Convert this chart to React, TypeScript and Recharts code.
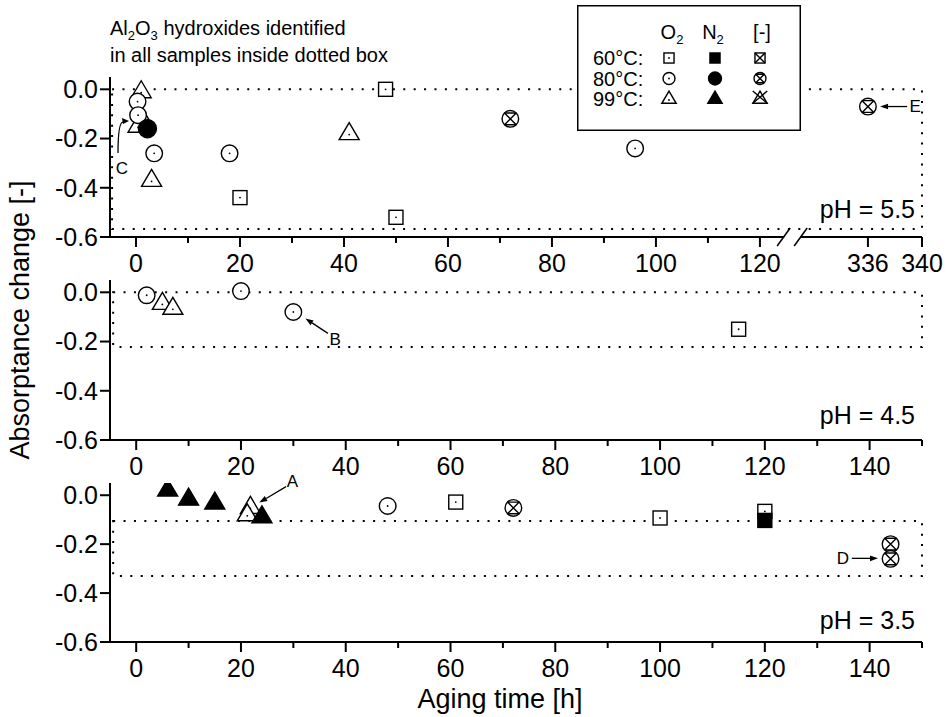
import React from 'react';
import {
  ScatterChart,
  Scatter,
  XAxis,
  YAxis,
  ReferenceArea,
  ReferenceLine,
  ReferenceDot,
  Legend,
  Label,
} from 'recharts';

const FONT = '"Liberation Sans", Arial, Helvetica, sans-serif';

// ---------- data: pH = 5.5 ----------
const ph55Sq60O2 = [{ t: 20, a: -0.44 }, { t: 48, a: 0.0 }, { t: 50, a: -0.52 }];
const ph55Tri99O2 = [{ t: 1, a: -0.01 }, { t: 1.3, a: -0.125 }, { t: 0.4, a: -0.15 }, { t: 3, a: -0.37 }, { t: 41, a: -0.18 }];
const ph55Cir80O2 = [{ t: 0.3, a: -0.05 }, { t: 0.4, a: -0.105 }, { t: 3.5, a: -0.26 }, { t: 18, a: -0.26 }, { t: 96, a: -0.24 }];
const ph55Cir80N2 = [{ t: 2.2, a: -0.16 }];
const ph55Cir80None = [{ t: 72, a: -0.12 }, { t: 336, a: -0.07 }];

// ---------- data: pH = 4.5 ----------
const ph45Sq60O2 = [{ t: 115, a: -0.15 }];
const ph45Tri99O2 = [{ t: 5, a: -0.045 }, { t: 7, a: -0.065 }];
const ph45Cir80O2 = [{ t: 2, a: -0.012 }, { t: 20, a: 0.005 }, { t: 30, a: -0.08 }];

// ---------- data: pH = 3.5 ----------
const ph35Tri99O2 = [{ t: 21.8, a: -0.05 }, { t: 21.2, a: -0.08 }];
const ph35Tri99N2 = [{ t: 6, a: 0.021 }, { t: 10, a: -0.016 }, { t: 15, a: -0.032 }, { t: 24, a: -0.088 }];
const ph35Cir80O2 = [{ t: 48, a: -0.044 }];
const ph35Sq60O2 = [{ t: 61, a: -0.028 }, { t: 100, a: -0.093 }, { t: 120, a: -0.066 }];
const ph35Sq60N2 = [{ t: 120, a: -0.103 }];
const ph35Cir80None = [{ t: 72, a: -0.052 }, { t: 144, a: -0.2 }, { t: 144, a: -0.26 }];

// ---------- axis ticks ----------
const yTicks = [-0.6, -0.4, -0.2, 0];
const topMajor = [0, 20, 40, 60, 80, 100, 120, 336, 340];
const topMinor = [10, 30, 50, 70, 90, 110];
const lowMajor = [0, 20, 40, 60, 80, 100, 120, 140];
const lowMinor = [10, 30, 50, 70, 90, 110, 130, 150];

// ---------- legend ----------
const legendRows = ['60°C:', '80°C:', '99°C:'];
const legendShapes = ['sq', 'cir', 'tri'];
const legendCols = [
  { main: 'O', sub: '2' },
  { main: 'N', sub: '2' },
  { main: '[-]', sub: '' },
];
const legendFills = ['O', 'F', 'X'];

// ---------- annotations ----------
const phLabels = ['pH = 5.5', 'pH = 4.5', 'pH = 3.5'];
const topNote = ['hydroxides identified', 'in all samples inside dotted box'];

// broken axis mapping for the top panel (virtual coordinate)
const brk = (t: number) => (t <= 125 ? t : 140.77 + (t - 336) * 2.6);
const TOP_MAX = brk(340);

const topTicks = [...topMajor, ...topMinor].map(brk).sort((p, q) => p - q);
const lowTicks = [...lowMajor, ...lowMinor].sort((p, q) => p - q);

const topLabel = (v: number) => {
  const m = topMajor.find((t) => Math.abs(brk(t) - v) < 1e-6);
  return m === undefined ? null : String(m);
};
const lowLabel = (v: number) => {
  const m = lowMajor.find((t) => Math.abs(t - v) < 1e-6);
  return m === undefined ? null : String(m);
};
const fmtY = (v: number) => (Math.abs(v) < 1e-9 ? '0.0' : v.toFixed(1));

const toTop = (d: { t: number; a: number }[]) => d.map((p) => ({ x: brk(p.t), a: p.a }));
const toLow = (d: { t: number; a: number }[]) => d.map((p) => ({ x: p.t, a: p.a }));

function Mark({ kind, fill, cx, cy, s = 1 }: any) {
  const sw = 1.4;
  const bg = fill === 'F' ? '#000' : '#fff';
  const dot = fill === 'O' ? <circle cx={cx} cy={cy} r={0.9} fill="#000" /> : null;
  if (kind === 'sq') {
    const h = 7 * s;
    return (
      <g>
        <rect x={cx - h} y={cy - h} width={2 * h} height={2 * h} fill={bg} stroke="#000" strokeWidth={sw} />
        {dot}
        {fill === 'X' && (
          <path
            d={`M${cx - h},${cy - h}L${cx + h},${cy + h}M${cx + h},${cy - h}L${cx - h},${cy + h}`}
            stroke="#000"
            strokeWidth={sw}
            fill="none"
          />
        )}
      </g>
    );
  }
  if (kind === 'cir') {
    const r = (fill === 'F' ? 9 : 8.3) * s;
    const d = r * 0.7071;
    return (
      <g>
        <circle cx={cx} cy={cy} r={r} fill={bg} stroke="#000" strokeWidth={sw} />
        {dot}
        {fill === 'X' && (
          <path
            d={`M${cx - d},${cy - d}L${cx + d},${cy + d}M${cx + d},${cy - d}L${cx - d},${cy + d}M${cx - d},${cy - d}L${cx + d},${cy - d}M${cx - d},${cy + d}L${cx + d},${cy + d}`}
            stroke="#000"
            strokeWidth={sw}
            fill="none"
          />
        )}
      </g>
    );
  }
  const w = 10 * s;
  const up = 11 * s;
  const dn = 6 * s;
  return (
    <g>
      <polygon
        points={`${cx},${cy - up} ${cx + w},${cy + dn} ${cx - w},${cy + dn}`}
        fill={bg}
        stroke="#000"
        strokeWidth={sw}
        strokeLinejoin="miter"
      />
      {fill === 'O' && <circle cx={cx} cy={cy + 1} r={0.9} fill="#000" />}
      {fill === 'X' && (
        <path
          d={`M${cx - w},${cy - up}L${cx + w},${cy + dn}M${cx + w},${cy - up}L${cx - w},${cy + dn}`}
          stroke="#000"
          strokeWidth={sw}
          fill="none"
        />
      )}
    </g>
  );
}

const XTick = (props: any) => {
  const { x, y, payload, lab } = props;
  const text = lab(payload.value);
  return (
    <g>
      <line x1={x} y1={y} x2={x} y2={y + (text !== null ? 10 : 6)} stroke="#000" strokeWidth={2} />
      {text !== null && (
        <text x={x} y={y + 35} textAnchor="middle" fontSize={25} fontFamily={FONT} fill="#000">
          {text}
        </text>
      )}
    </g>
  );
};

const arrowShape = (p: any) => {
  const { x1, y1, x2, y2 } = p;
  const ang = Math.atan2(y2 - y1, x2 - x1);
  const L = 8;
  const W = 2.8;
  const bx = x2 - L * Math.cos(ang);
  const by = y2 - L * Math.sin(ang);
  return (
    <g>
      <line x1={x1} y1={y1} x2={bx} y2={by} stroke="#000" strokeWidth={1.3} />
      <polygon
        points={`${x2},${y2} ${bx - W * Math.sin(ang)},${by + W * Math.cos(ang)} ${bx + W * Math.sin(ang)},${by - W * Math.cos(ang)}`}
        fill="#000"
      />
    </g>
  );
};

const curvedArrowShape = (p: any) => {
  const { x1, y1, x2, y2 } = p;
  return (
    <g>
      <path d={`M${x1},${y1} Q${x1},${y2} ${x2 - 4},${y2}`} stroke="#000" strokeWidth={1.3} fill="none" />
      <polygon points={`${x2 + 2},${y2 - 1} ${x2 - 5},${y2 - 4} ${x2 - 4},${y2 + 2}`} fill="#000" />
    </g>
  );
};

const letter = (text: string) => (p: any) => (
  <text x={p.cx} y={p.cy} textAnchor="middle" dominantBaseline="central" fontSize={17} fontFamily={FONT} fill="#000">
    {text}
  </text>
);

const phText = (text: string) => (p: any) => (
  <text x={p.cx - 7} y={p.cy} dy="0.36em" textAnchor="end" fontSize={25} fontFamily={FONT} fill="#000">
    {text}
  </text>
);

const noteShape = (p: any) => (
  <g fontFamily={FONT} fontSize={20} fill="#000">
    <text x={p.cx} y={p.cy - 42}>
      Al<tspan dy={5} fontSize={13}>2</tspan>
      <tspan dy={-5}>O</tspan>
      <tspan dy={5} fontSize={13}>3</tspan>
      <tspan dy={-5}> {topNote[0]}</tspan>
    </text>
    <text x={p.cx} y={p.cy - 15}>{topNote[1]}</text>
  </g>
);

const breakShape = (p: any) => {
  const { cx, cy } = p;
  return (
    <g>
      <rect x={cx - 8} y={cy - 2} width={16} height={4} fill="#fff" />
      <line x1={cx - 15} y1={cy + 9} x2={cx - 2} y2={cy - 9} stroke="#000" strokeWidth={1.5} />
      <line x1={cx + 2} y1={cy + 9} x2={cx + 15} y2={cy - 9} stroke="#000" strokeWidth={1.5} />
    </g>
  );
};

const LegendBox = () => (
  <svg width={224} height={126} style={{ display: 'block' }}>
    <rect x={0.75} y={0.75} width={222.5} height={124.5} fill="#fff" stroke="#000" strokeWidth={1.5} />
    {legendCols.map((c, i) => (
      <text key={'h' + i} x={[95, 136, 185][i]} y={34} textAnchor="middle" fontSize={20} fontFamily={FONT} fill="#000">
        {c.main}
        {c.sub && (
          <tspan dy={5} fontSize={13}>
            {c.sub}
          </tspan>
        )}
      </text>
    ))}
    {legendRows.map((r, ri) => (
      <g key={'r' + ri}>
        <text x={16} y={53 + ri * 20.5} dy="0.36em" fontSize={20} fontFamily={FONT} fill="#000">
          {r}
        </text>
        {legendFills.map((f, fi) => (
          <Mark key={fi} kind={legendShapes[ri]} fill={f} cx={[92, 138, 183][fi]} cy={53 + ri * 20.5} s={0.72} />
        ))}
      </g>
    ))}
  </svg>
);

const axisLine = { stroke: '#000', strokeWidth: 2 };
const tickLine = { stroke: '#000', strokeWidth: 2 };
const yTickStyle = { fontSize: 25, fill: '#000', fontFamily: FONT };
const dotted = { fill: 'none', stroke: '#000', strokeWidth: 2, strokeDasharray: '2 8.4', fillOpacity: 0 };

const series = (list: any[], conv: (d: any) => any) =>
  list.map((s, i) => (
    <Scatter
      key={i}
      data={conv(s.d)}
      dataKey="a"
      isAnimationActive={false}
      shape={(p: any) => <Mark kind={s.k} fill={s.f} cx={p.cx} cy={p.cy} />}
    />
  ));

const topSeries = [
  { d: ph55Sq60O2, k: 'sq', f: 'O' },
  { d: ph55Tri99O2, k: 'tri', f: 'O' },
  { d: ph55Cir80O2, k: 'cir', f: 'O' },
  { d: ph55Cir80N2, k: 'cir', f: 'F' },
  { d: ph55Cir80None, k: 'cir', f: 'X' },
];
const midSeries = [
  { d: ph45Sq60O2, k: 'sq', f: 'O' },
  { d: ph45Tri99O2, k: 'tri', f: 'O' },
  { d: ph45Cir80O2, k: 'cir', f: 'O' },
];
const lowSeries = [
  { d: ph35Tri99O2, k: 'tri', f: 'O' },
  { d: ph35Tri99N2, k: 'tri', f: 'F' },
  { d: ph35Cir80O2, k: 'cir', f: 'O' },
  { d: ph35Sq60O2, k: 'sq', f: 'O' },
  { d: ph35Sq60N2, k: 'sq', f: 'F' },
  { d: ph35Cir80None, k: 'cir', f: 'X' },
];

const yAxis = (children?: any) => (
  <YAxis
    type="number"
    dataKey="a"
    domain={[-0.6, 0.05]}
    allowDataOverflow
    ticks={yTicks}
    interval={0}
    width={60}
    tickSize={10}
    tickMargin={2}
    tickFormatter={fmtY}
    tick={yTickStyle}
    tickLine={tickLine}
    axisLine={axisLine}
  >
    {children}
  </YAxis>
);

const wrap: React.CSSProperties = { position: 'absolute', left: 0, top: 0 };

export default function App() {
  return (
    <div style={{ position: 'absolute', left: 0, top: 0, width: 950, height: 717, background: '#fff', fontFamily: FONT }}>
      {/* pH 5.5 */}
      <div style={wrap}>
        <ScatterChart width={950} height={717} margin={{ top: 77, right: 28, bottom: 450, left: 50 }}>
          <XAxis
            type="number"
            dataKey="x"
            domain={[-5, TOP_MAX]}
            allowDataOverflow
            ticks={topTicks}
            interval={0}
            tickSize={0}
            tickMargin={0}
            tickLine={false}
            axisLine={axisLine}
            tick={(p: any) => <XTick {...p} lab={topLabel} />}
          />
          {yAxis()}
          <ReferenceArea x1={-4.6} x2={TOP_MAX} y1={-0.567} y2={0} ifOverflow="visible" {...dotted} />
          {series(topSeries, toTop)}
          <ReferenceLine
            segment={[{ x: -3.46, y: -0.259 }, { x: -1.73, y: -0.133 }]}
            ifOverflow="visible"
            shape={curvedArrowShape}
          />
          <ReferenceDot x={-2.7} y={-0.32} r={0} ifOverflow="visible" shape={letter('C')} />
          <ReferenceLine
            segment={[{ x: brk(338.9), y: -0.07 }, { x: brk(336.9), y: -0.07 }]}
            ifOverflow="visible"
            shape={arrowShape}
          />
          <ReferenceDot x={brk(339.5)} y={-0.07} r={0} ifOverflow="visible" shape={letter('E')} />
          <ReferenceDot x={TOP_MAX} y={-0.486} r={0} ifOverflow="visible" shape={phText(phLabels[0])} />
          <ReferenceDot x={126.2} y={-0.6} r={0} ifOverflow="visible" shape={breakShape} />
          <ReferenceDot x={-5} y={0.05} r={0} ifOverflow="visible" shape={noteShape} />
          <Legend
            layout="vertical"
            align="center"
            verticalAlign="middle"
            width={224}
            height={126}
            wrapperStyle={{ position: 'absolute', left: 577, top: 5, width: 224, height: 126 }}
            content={() => <LegendBox />}
          />
        </ScatterChart>
      </div>

      {/* pH 4.5 */}
      <div style={wrap}>
        <ScatterChart width={950} height={717} margin={{ top: 280, right: 28, bottom: 247, left: 50 }}>
          <XAxis
            type="number"
            dataKey="x"
            domain={[-5, 150]}
            allowDataOverflow
            ticks={lowTicks}
            interval={0}
            tickSize={0}
            tickMargin={0}
            tickLine={false}
            axisLine={axisLine}
            tick={(p: any) => <XTick {...p} lab={lowLabel} />}
          />
          {yAxis(
            <Label
              content={(p: any) => {
                const vb = p.viewBox || { x: 50, y: 280 };
                return (
                  <text
                    transform={`translate(${vb.x - 30},${vb.y + 40}) rotate(-90)`}
                    textAnchor="middle"
                    dominantBaseline="central"
                    fontSize={27}
                    fontFamily={FONT}
                    fill="#000"
                  >
                    Absorptance change [-]
                  </text>
                );
              }}
            />
          )}
          <ReferenceArea x1={-4.4} x2={150} y1={-0.222} y2={0} ifOverflow="visible" {...dotted} />
          {series(midSeries, toLow)}
          <ReferenceLine
            segment={[{ x: 36.6, y: -0.167 }, { x: 32.3, y: -0.106 }]}
            ifOverflow="visible"
            shape={arrowShape}
          />
          <ReferenceDot x={38} y={-0.19} r={0} ifOverflow="visible" shape={letter('B')} />
          <ReferenceDot x={150} y={-0.498} r={0} ifOverflow="visible" shape={phText(phLabels[1])} />
        </ScatterChart>
      </div>

      {/* pH 3.5 */}
      <div style={wrap}>
        <ScatterChart width={950} height={717} margin={{ top: 483, right: 28, bottom: 45, left: 50 }}>
          <XAxis
            type="number"
            dataKey="x"
            domain={[-5, 150]}
            allowDataOverflow
            ticks={lowTicks}
            interval={0}
            tickSize={0}
            tickMargin={0}
            tickLine={false}
            axisLine={axisLine}
            tick={(p: any) => <XTick {...p} lab={lowLabel} />}
          >
            <Label
              content={(p: any) => {
                const vb = p.viewBox || { x: 110, y: 642 };
                return (
                  <text x={vb.x + 390} y={vb.y + 66} textAnchor="middle" fontSize={27} fontFamily={FONT} fill="#000">
                    Aging time [h]
                  </text>
                );
              }}
            />
          </XAxis>
          {yAxis()}
          <ReferenceArea x1={-4.4} x2={150} y1={-0.33} y2={-0.105} ifOverflow="visible" {...dotted} />
          {series(lowSeries, toLow)}
          <ReferenceLine
            segment={[{ x: 28.6, y: 0.035 }, { x: 23.5, y: -0.03 }]}
            ifOverflow="visible"
            shape={arrowShape}
          />
          <ReferenceDot x={29.8} y={0.058} r={0} ifOverflow="visible" shape={letter('A')} />
          <ReferenceLine
            segment={[{ x: 136.6, y: -0.258 }, { x: 141.6, y: -0.258 }]}
            ifOverflow="visible"
            shape={arrowShape}
          />
          <ReferenceDot x={134.9} y={-0.258} r={0} ifOverflow="visible" shape={letter('D')} />
          <ReferenceDot x={150} y={-0.51} r={0} ifOverflow="visible" shape={phText(phLabels[2])} />
        </ScatterChart>
      </div>
    </div>
  );
}
